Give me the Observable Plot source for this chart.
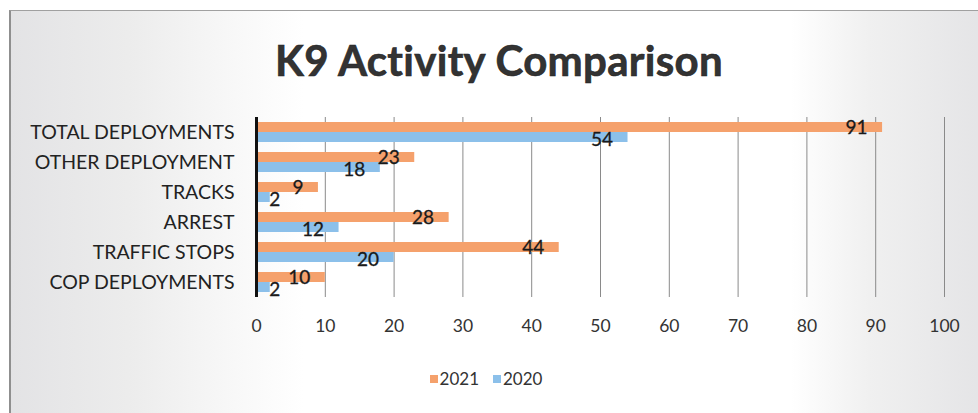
<!DOCTYPE html>
<html>
<head>
<meta charset="utf-8">
<script src="https://cdn.jsdelivr.net/npm/d3@7"></script>
<script src="https://cdn.jsdelivr.net/npm/@observablehq/plot@0.6"></script>
<style>
  html, body { margin: 0; padding: 0; background: #fff; }
  #page { position: relative; width: 978px; height: 413px; overflow: hidden; background: #fff; }
  #frame {
    position: absolute; left: 9px; top: 10px; width: 975px; height: 410px;
    border-left: 2px solid #8f8f8f; border-top: 1px solid #a0a0a0;
    background: linear-gradient(to right, #e3e3e5 0%, #ececec 12%, #f7f7f7 22%, #ffffff 30%, #ffffff 80%, #f0f0f0 88%, #e4e4e6 100%);
  }
  #title {
    position: absolute; left: 0; top: 35px; width: 998px; text-align: center;
    font-family: Lato, "Open Sans", sans-serif; font-weight: 700; font-size: 42px;
    color: #333; -webkit-text-stroke: 0.6px #222; letter-spacing: 0.3px;
  }
  #chart { position: absolute; left: 0; top: 100px; }
  #legend {
    position: absolute; left: 0; top: 368px; width: 978px; display: flex; justify-content: center; margin-left: -3px;
    font-family: Lato, "Open Sans", sans-serif; font-size: 17px; color: #333; gap: 14px;
  }
  .item { display: flex; align-items: center; gap: 2px; }
  .sw { width: 8px; height: 8px; display: inline-block; }
</style>
</head>
<body>
<div id="page">
  <div id="frame"></div>
  <div id="title">K9 Activity Comparison</div>
  <div id="chart"></div>
  <div id="legend"></div>
</div>
<script>
const categories = ["TOTAL DEPLOYMENTS", "OTHER DEPLOYMENT", "TRACKS", "ARREST", "TRAFFIC STOPS", "COP DEPLOYMENTS"];
const series = ["2021", "2020"];
const values2021 = [91, 23, 9, 28, 44, 10];
const values2020 = [54, 18, 2, 12, 20, 2];
const xTicks = [0, 10, 20, 30, 40, 50, 60, 70, 80, 90, 100];
const colors = ["#f5a16c", "#8cc0ea"];

const rows2021 = categories.map((c, i) => ({category: c, series: "2021", value: values2021[i]}));
const rows2020 = categories.map((c, i) => ({category: c, series: "2020", value: values2020[i]}));

const font = "Lato, 'Open Sans', sans-serif";

const chart = Plot.plot({
  width: 978,
  height: 240,
  marginLeft: 256,
  marginRight: 34,
  marginTop: 17,
  marginBottom: 43,
  style: {background: "transparent", fontFamily: font, color: "#222", overflow: "visible"},
  x: {domain: [0, 100], ticks: xTicks, label: null},
  y: {domain: categories, paddingInner: 0.33, paddingOuter: 0.165, label: null},
  marks: [
    Plot.ruleX(xTicks.filter(t => t > 0), {stroke: "#8a8a8a", strokeWidth: 1}),
    Plot.barX(rows2021, {x: "value", y: "category", fill: colors[0], insetBottom: 10}),
    Plot.barX(rows2020, {x: "value", y: "category", fill: colors[1], insetTop: 10}),
    Plot.ruleX([0], {stroke: "#111", strokeWidth: 3}),
    Plot.text(rows2021, {filter: d => d.value >= 5, x: "value", y: "category", text: d => String(d.value), textAnchor: "end", dx: -15, dy: -4.5, fontSize: 19, fill: "#1a1a1a", stroke: "#1a1a1a", strokeWidth: 0.3}),
    Plot.text(rows2020, {filter: d => d.value >= 5, x: "value", y: "category", text: d => String(d.value), textAnchor: "end", dx: -15, dy: 7, fontSize: 19, fill: "#1a1a1a", stroke: "#1a1a1a", strokeWidth: 0.3}),
    Plot.text(rows2020, {filter: d => d.value < 5, x: "value", y: "category", text: d => String(d.value), textAnchor: "start", dx: -1, dy: 7, fontSize: 19, fill: "#1a1a1a", stroke: "#1a1a1a", strokeWidth: 0.3}),
    Plot.axisY({tickSize: 0, tickPadding: 22, fontSize: 19.5, fill: "#222"}),
    Plot.axisX({ticks: xTicks, tickSize: 0, tickPadding: 22, fontSize: 17.5, fill: "#333"})
  ]
});
document.getElementById("chart").appendChild(chart);

const legend = document.getElementById("legend");
series.forEach((s, i) => {
  const item = document.createElement("span");
  item.className = "item";
  item.innerHTML = `<span class="sw" style="background:${colors[i]}"></span><span>${s}</span>`;
  legend.appendChild(item);
});
</script>
</body>
</html>
